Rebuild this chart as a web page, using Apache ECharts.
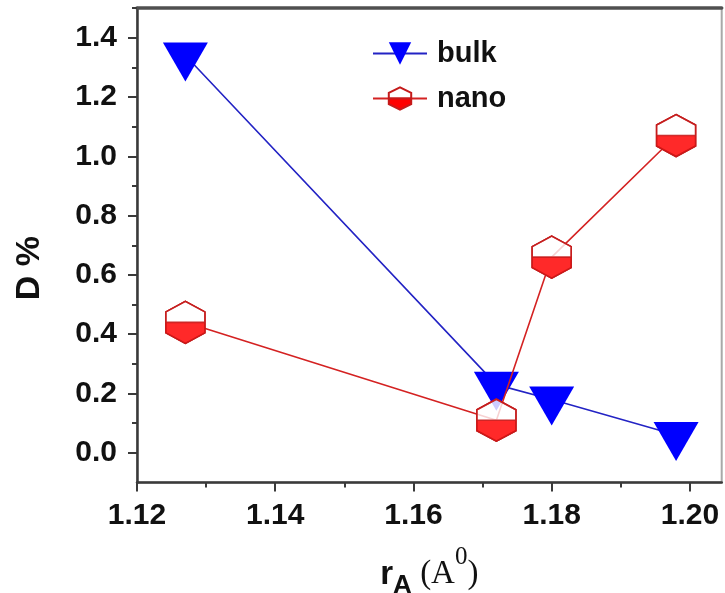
<!DOCTYPE html>
<html>
<head>
<meta charset="utf-8">
<script src="https://cdn.jsdelivr.net/npm/echarts@6/dist/echarts.min.js"></script>
<style>
  html, body { margin: 0; padding: 0; background: #ffffff; }
  #chart { width: 725px; height: 593px; }
</style>
</head>
<body>
<div id="chart"></div>
<script>
// Distortion D (%) versus mean A-site ionic radius r_A
const bulkR = [1.127, 1.172, 1.180, 1.198];
const bulkD = [1.34, 0.23, 0.18, 0.06];
const nanoR = [1.127, 1.172, 1.180, 1.198];
const nanoD = [0.44, 0.11, 0.66, 1.07];

// Axis ticks and labels
const xTicks = [1.12, 1.14, 1.16, 1.18, 1.20];
const xMinorTicks = [1.13, 1.15, 1.17, 1.19];
const yTicks = [0.0, 0.2, 0.4, 0.6, 0.8, 1.0, 1.2, 1.4];
const yMinorTicks = [0.1, 0.3, 0.5, 0.7, 0.9, 1.1, 1.3, 1.5];

const seriesNames = ['bulk', 'nano'];

const pairs = (xs, ys) => xs.map((x, i) => [x, ys[i]]);

// Marker shapes
const downTriangle = 'path://M0,0 L45,0 L22.5,39 Z';
const fullHex = 'path://M19,0 L38,10.5 L38,31.5 L19,42 L0,31.5 L0,10.5 Z';
// Upper half is an outline only (zero-area), lower half is a filled polygon
const halfHex = 'path://M0,21 L0,10.5 L19,0 L38,10.5 L38,21 L38,10.5 L19,0 L0,10.5 Z M0,21 L38,21 L38,31.5 L19,42 L0,31.5 Z';

const FONT = '"Liberation Sans", Arial, sans-serif';
const SERIF = '"Liberation Serif", "Times New Roman", serif';
const AXIS_COLOR = '#3a3a3a';

const chart = echarts.init(document.getElementById('chart'), null, { renderer: 'canvas' });

const xMin = 1.12, xMax = 1.2046;
const yMin = -0.1, yMax = 1.5;

const tickLabel = {
  fontFamily: FONT, fontWeight: 'bold', fontSize: 30, color: '#111111'
};

chart.setOption({
  animation: false,
  backgroundColor: '#ffffff',
  grid: {
    left: 137, right: 3.3, top: 8, bottom: 110.5,
    outerBoundsMode: 'none',
    containLabel: false,
    show: true, backgroundColor: '#ffffff',
    borderColor: '#a8a8a8', borderWidth: 2
  },
  legend: {
    data: seriesNames,
    orient: 'vertical',
    left: 372, top: 39, padding: 0,
    itemWidth: 54, itemHeight: 28, itemGap: 16,
    textStyle: { fontFamily: FONT, fontWeight: 'bold', fontSize: 29, color: '#111111', padding: [0, 0, 0, 5] }
  },
  xAxis: [
    {
      type: 'value', min: xMin, max: xMax, position: 'bottom',
      axisLine: { onZero: false, lineStyle: { color: AXIS_COLOR, width: 2.5 } },
      axisTick: { customValues: xTicks, length: 9, lineStyle: { color: AXIS_COLOR, width: 2 } },
      axisLabel: Object.assign({ customValues: xTicks, margin: 18, formatter: v => v.toFixed(2) }, tickLabel),
      splitLine: { show: false },
      name: '{r|r}{sub|A}{p| (A}{sup|0}{p|)}',
      nameLocation: 'middle',
      nameGap: 57,
      nameTextStyle: {
        rich: {
          r: { fontFamily: FONT, fontWeight: 'bold', fontSize: 33, lineHeight: 70, color: '#111111' },
          sub: { fontFamily: FONT, fontWeight: 'bold', fontSize: 26, lineHeight: 26, padding: [33, 0, 11, 0], color: '#111111' },
          p: { fontFamily: SERIF, fontSize: 33, lineHeight: 70, color: '#111111' },
          sup: { fontFamily: SERIF, fontSize: 25, lineHeight: 25, padding: [5, 0, 40, 0], color: '#111111' }
        }
      }
    },
    {
      type: 'value', min: xMin, max: xMax, position: 'bottom',
      axisLine: { show: false, onZero: false },
      axisTick: { customValues: xMinorTicks, length: 5, lineStyle: { color: AXIS_COLOR, width: 2 } },
      axisLabel: { show: false },
      splitLine: { show: false }
    },
    {
      type: 'value', min: xMin, max: xMax, position: 'top',
      axisLine: { onZero: false, lineStyle: { color: '#505050', width: 3.5 } },
      axisTick: { show: false },
      axisLabel: { show: false },
      splitLine: { show: false }
    }
  ],
  yAxis: [
    {
      type: 'value', min: yMin, max: yMax, position: 'left',
      axisLine: { onZero: false, lineStyle: { color: AXIS_COLOR, width: 2.5 } },
      axisTick: { customValues: yTicks, length: 9, lineStyle: { color: AXIS_COLOR, width: 2 } },
      axisLabel: Object.assign({ customValues: yTicks, margin: 20, formatter: v => v.toFixed(1) }, tickLabel),
      splitLine: { show: false },
      name: 'D %',
      nameLocation: 'middle',
      nameRotate: 90,
      nameGap: 90,
      nameTextStyle: { fontFamily: FONT, fontWeight: 'bold', fontSize: 34, color: '#111111', padding: [0, 46, 0, 0] }
    },
    {
      type: 'value', min: yMin, max: yMax, position: 'left',
      axisLine: { show: false, onZero: false },
      axisTick: { customValues: yMinorTicks, length: 5, lineStyle: { color: AXIS_COLOR, width: 2 } },
      axisLabel: { show: false },
      splitLine: { show: false }
    }
  ],
  series: [
    {
      name: 'bulk', type: 'line', z: 2,
      data: pairs(bulkR, bulkD),
      symbol: downTriangle, symbolSize: [45, 39], symbolOffset: [0, 6.5],
      itemStyle: { color: '#0000ff', borderWidth: 0 },
      lineStyle: { color: '#2323c4', width: 1.6 }
    },
    {
      name: 'nano', type: 'line', z: 3,
      data: pairs(nanoR, nanoD),
      symbol: halfHex, symbolSize: [39, 42],
      itemStyle: { color: '#ff0000', borderColor: '#c41a1a', borderWidth: 1.5 },
      lineStyle: { color: '#d42222', width: 1.6 }
    },
    {
      name: 'nano', type: 'scatter', z: 4,
      data: pairs(nanoR, nanoD),
      symbol: fullHex, symbolSize: [39, 42],
      itemStyle: { color: '#ffffff', borderColor: '#c41a1a', borderWidth: 1.5 }
    },
    {
      name: 'nano', type: 'scatter', z: 5,
      data: pairs(nanoR, nanoD),
      symbol: halfHex, symbolSize: [39, 42],
      itemStyle: { color: '#ff0000', borderColor: '#c41a1a', borderWidth: 1.5 }
    }
  ]
});
</script>
</body>
</html>
